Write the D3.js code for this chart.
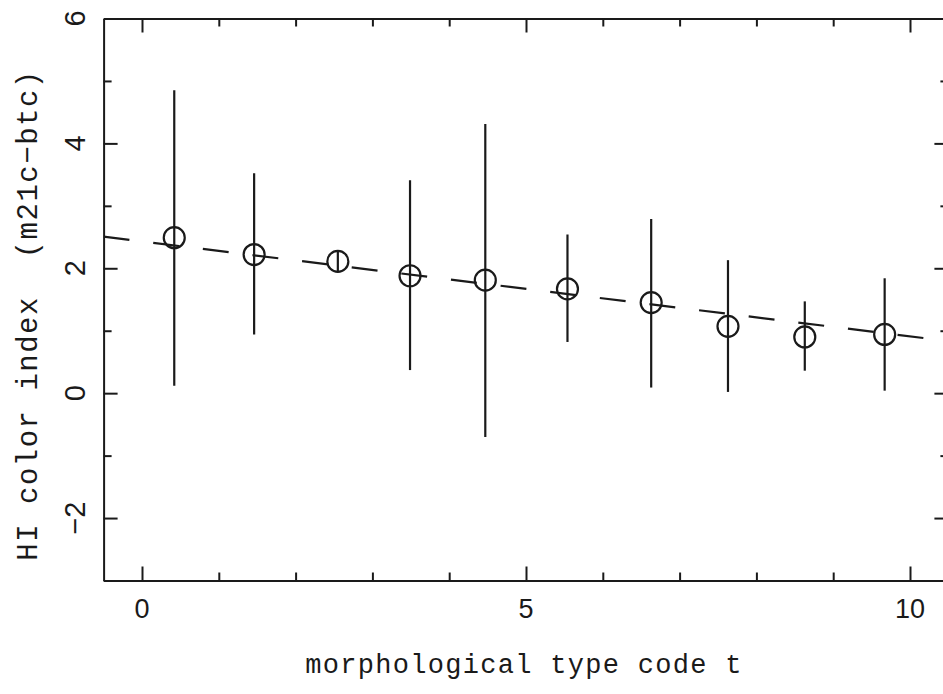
<!DOCTYPE html>
<html>
<head>
<meta charset="utf-8">
<script src="https://cdn.jsdelivr.net/npm/d3@7"></script>
<style>
  html, body { margin: 0; padding: 0; background: #fff; }
  svg { display: block; }
  .axis path, .axis line { stroke: #1a1a1a; stroke-width: 2; }
  .tick-label { font-family: 'Liberation Sans', Arial, sans-serif; fill: #1a1a1a; }
  .title { font-family: 'Liberation Mono', 'Courier New', monospace; fill: #1a1a1a; }
</style>
</head>
<body>
<svg id="chart" width="943" height="694"></svg>
<script>
'use strict';

// morphological type code t (bin centres)
const typeCode = [0.42, 1.46, 2.55, 3.49, 4.47, 5.54, 6.63, 7.63, 8.63, 9.67];
// mean HI colour index (m21c - btc)
const hiColor = [2.49, 2.22, 2.11, 1.88, 1.81, 1.67, 1.45, 1.07, 0.90, 0.94];
// error bar ends
const errTop = [4.85, 3.52, 2.29, 3.41, 4.31, 2.54, 2.79, 2.13, 1.47, 1.84];
const errBottom = [0.12, 0.94, 1.94, 0.37, -0.70, 0.82, 0.09, 0.02, 0.36, 0.04];
// linear fit: intercept, slope
const fitLine = [2.43, -0.152];

const xMajor = [0, 5, 10];
const xMinor = [1, 2, 3, 4, 6, 7, 8, 9];
const yMajor = [-2, 0, 2, 4, 6];
const yMinor = [-3, -1, 1, 3, 5];

const svg = d3.select('#chart');

const x = d3.scaleLinear()
  .domain([-0.5, 10.5])
  .range([103.6, 948.4]);

const y = d3.scaleLinear()
  .domain([-3, 6])
  .range([580.5, 18.5]);

const [x0, x1] = x.range();
const [yb, yt] = y.range();

// axes, ticks pointing inward on all four sides
function drawAxis(axisFn, scale, major, minor, transform) {
  const g = svg.append('g').attr('class', 'axis').attr('transform', transform);
  g.call(axisFn(scale).tickValues(major).tickSize(-14).tickSizeOuter(0).tickFormat(''));
  const m = svg.append('g').attr('class', 'axis').attr('transform', transform);
  m.call(axisFn(scale).tickValues(minor).tickSize(-8).tickSizeOuter(0).tickFormat(''));
  m.select('.domain').remove();
}

drawAxis(d3.axisBottom, x, xMajor, xMinor, `translate(0,${yb})`);
drawAxis(d3.axisTop, x, xMajor, xMinor, `translate(0,${yt})`);
drawAxis(d3.axisLeft, y, yMajor, yMinor, `translate(${x0},0)`);
drawAxis(d3.axisRight, y, yMajor, yMinor, `translate(${x1},0)`);

// x tick labels
svg.append('g')
  .selectAll('text')
  .data(xMajor)
  .join('text')
  .attr('class', 'tick-label')
  .attr('x', d => x(d))
  .attr('y', 618)
  .attr('text-anchor', 'middle')
  .attr('font-size', 27)
  .text(d => d);

// y tick labels, rotated
svg.append('g')
  .selectAll('text')
  .data(yMajor)
  .join('text')
  .attr('class', 'tick-label')
  .attr('transform', d => `translate(85,${y(d)}) rotate(-90)`)
  .attr('text-anchor', 'middle')
  .attr('font-size', 29)
  .text(d => d < 0 ? '\u2212' + Math.abs(d) : d);

// plot area clip
svg.append('clipPath')
  .attr('id', 'plot-clip')
  .append('rect')
  .attr('x', x0)
  .attr('y', yt)
  .attr('width', x1 - x0)
  .attr('height', yb - yt);

const plot = svg.append('g').attr('clip-path', 'url(#plot-clip)');

// dashed fit line
const fitX = x.domain();
plot.append('line')
  .attr('x1', x(fitX[0]))
  .attr('y1', y(fitLine[0] + fitLine[1] * fitX[0]))
  .attr('x2', x(fitX[1]))
  .attr('y2', y(fitLine[0] + fitLine[1] * fitX[1]))
  .attr('stroke', '#1a1a1a')
  .attr('stroke-width', 2.2)
  .attr('stroke-dasharray', '26,24');

const points = typeCode.map((t, i) => ({ t, v: hiColor[i], hi: errTop[i], lo: errBottom[i] }));

// error bars
plot.append('g')
  .selectAll('line')
  .data(points)
  .join('line')
  .attr('x1', d => x(d.t))
  .attr('x2', d => x(d.t))
  .attr('y1', d => y(d.hi))
  .attr('y2', d => y(d.lo))
  .attr('stroke', '#1a1a1a')
  .attr('stroke-width', 2.2);

// open circles
plot.append('g')
  .selectAll('circle')
  .data(points)
  .join('circle')
  .attr('cx', d => x(d.t))
  .attr('cy', d => y(d.v))
  .attr('r', 10.5)
  .attr('fill', 'none')
  .attr('stroke', '#1a1a1a')
  .attr('stroke-width', 2.2);

// axis titles
svg.append('text')
  .attr('class', 'title')
  .attr('x', 524)
  .attr('y', 673)
  .attr('text-anchor', 'middle')
  .attr('font-size', 27)
  .attr('letter-spacing', 1.3)
  .text('morphological type code t');

svg.append('text')
  .attr('class', 'title')
  .attr('transform', 'translate(37,315) rotate(-90)')
  .attr('text-anchor', 'middle')
  .attr('font-size', 29)
  .attr('letter-spacing', 1.5)
  .attr('xml:space', 'preserve')
  .style('white-space', 'pre')
  .text('HI color index  (m21c\u2212btc)');
</script>
</body>
</html>
